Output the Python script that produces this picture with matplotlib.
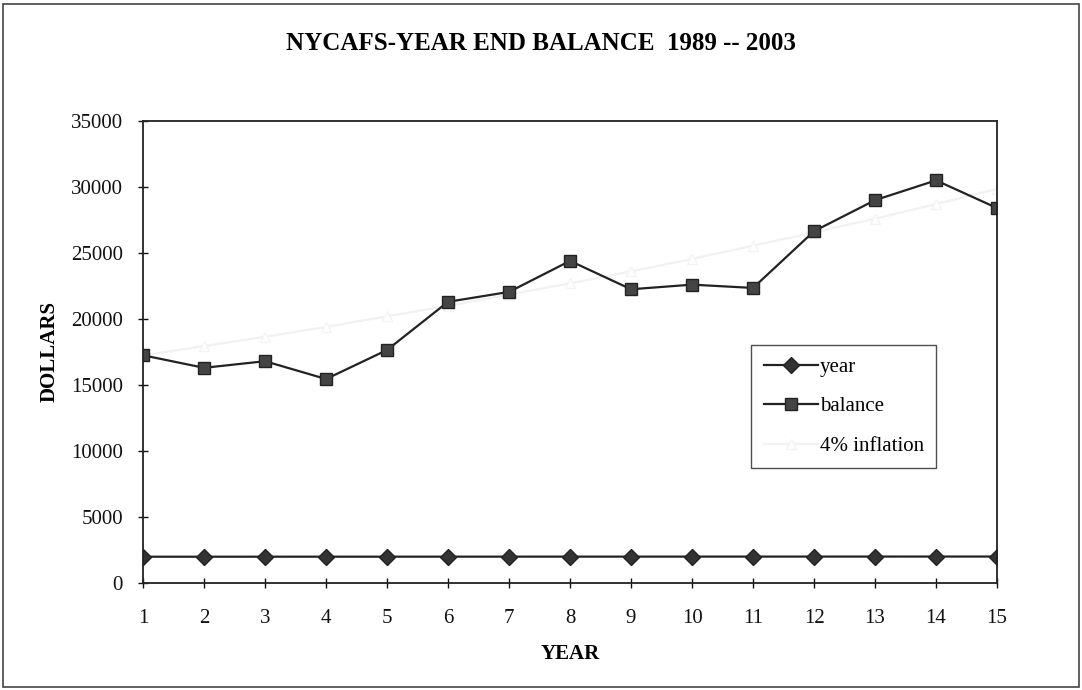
import matplotlib
matplotlib.use("Agg")
import matplotlib.pyplot as plt
from matplotlib.patches import Rectangle

# data
period = list(range(1, 16))
year = [1989, 1990, 1991, 1992, 1993, 1994, 1995, 1996, 1997, 1998,
        1999, 2000, 2001, 2002, 2003]
balance = [17250, 16300, 16800, 15450, 17650, 21300, 22050, 24400,
           22250, 22600, 22350, 26650, 29000, 30500, 28400]
inflation = [17250, 17950, 18650, 19400, 20200, 21000, 21850, 22700,
             23600, 24550, 25550, 26550, 27600, 28700, 29850]

plt.rcParams['font.family'] = ['Liberation Serif', 'DejaVu Serif']

fig = plt.figure(figsize=(10.82, 6.9), dpi=100)
ax = fig.add_axes([0.1322, 0.1551, 0.7893, 0.6696])

# outer chart border
fig.patches.append(Rectangle((0.003, 0.004), 0.994, 0.99, transform=fig.transFigure,
                             fill=False, edgecolor='#444444', linewidth=1.2))

ax.plot(period, year, color='#222222', linewidth=1.6, marker='D', markersize=8,
        markerfacecolor='#333333', markeredgecolor='#222222', label='year')
ax.plot(period, balance, color='#222222', linewidth=1.6, marker='s', markersize=9,
        markerfacecolor='#444444', markeredgecolor='#222222', label='balance')
ax.plot(period, inflation, color='#f1f1f1', linewidth=1.6, marker='^', markersize=7,
        markerfacecolor='white', markeredgecolor='#f4f4f4', label='4% inflation',
        zorder=1)

ax.set_xlim(1, 15)
ax.set_ylim(0, 35000)
ax.set_xticks(period)
ax.set_yticks(range(0, 35001, 5000))
ax.tick_params(direction='inout', length=7, width=1, labelsize=15, colors='#111111')
ax.tick_params(axis='x', pad=15)
ax.tick_params(axis='y', pad=11)
for s in ax.spines.values():
    s.set_linewidth(1.3)
    s.set_color('#222222')

ax.set_xlabel('YEAR', fontsize=15, fontweight='bold', labelpad=12)
ax.set_ylabel('DOLLARS', fontsize=15, fontweight='bold', labelpad=8)
fig.text(0.5, 0.937, 'NYCAFS-YEAR END BALANCE  1989 -- 2003', ha='center', va='center',
         fontsize=18, fontweight='bold')

leg = ax.legend(loc='upper left', bbox_to_anchor=(0.712, 0.515), borderaxespad=0,
                fontsize=15, frameon=True, fancybox=False, handlelength=2.6,
                labelspacing=0.95, borderpad=0.6, handletextpad=0.1)
leg.get_frame().set_edgecolor('#222222')
leg.get_frame().set_linewidth(1.0)

fig.savefig('out.png', dpi=100)
